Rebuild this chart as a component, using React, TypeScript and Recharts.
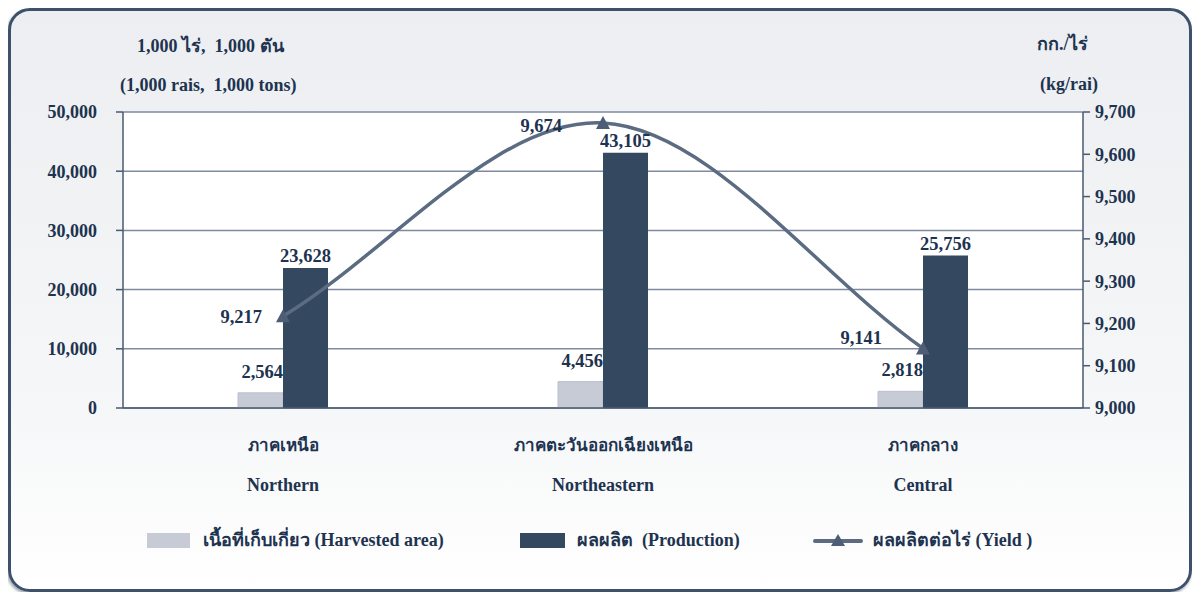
import React from "react";
import {
  ComposedChart,
  Bar,
  Line,
  XAxis,
  YAxis,
  CartesianGrid,
  LabelList,
} from "recharts";

const regionsTh = ["ภาคเหนือ", "ภาคตะวันออกเฉียงเหนือ", "ภาคกลาง"];
const regionsEn = ["Northern", "Northeastern", "Central"];
const harvestedArea = [2564, 4456, 2818];
const production = [23628, 43105, 25756];
const yieldPerRai = [9217, 9674, 9141];
const leftTicks = [0, 10000, 20000, 30000, 40000, 50000];
const rightTicks = [9000, 9100, 9200, 9300, 9400, 9500, 9600, 9700];
const boundaryTicks = [0, 1, 2, 3];

const data = regionsEn.map((name, i) => ({
  name,
  th: regionsTh[i],
  idx: i + 0.5,
  harvested: harvestedArea[i],
  production: production[i],
  yield: yieldPerRai[i],
}));

const FONT = '"Liberation Serif", "Times New Roman", serif';
const TEXT = "#1d3350";
const LIGHT = "#c6cbd6";
const DARK = "#34495f";
const LINE = "#5b6b82";

const fmt = (v: number) => v.toLocaleString("en-US");

// smoothed line like the spreadsheet one: catmull-rom inside, secant tangents at the ends
const smoothCurve = (context: any) => {
  let pts: number[][] = [];
  return {
    areaStart() {},
    areaEnd() {},
    lineStart() {
      pts = [];
    },
    point(x: number, y: number) {
      pts.push([+x, +y]);
    },
    lineEnd() {
      const n = pts.length;
      if (!n) return;
      context.moveTo(pts[0][0], pts[0][1]);
      if (n === 1) return;
      const tan = pts.map((p, i) => {
        if (i === 0) return [pts[1][0] - p[0], pts[1][1] - p[1]];
        if (i === n - 1) return [p[0] - pts[i - 1][0], p[1] - pts[i - 1][1]];
        return [
          (pts[i + 1][0] - pts[i - 1][0]) / 2,
          (pts[i + 1][1] - pts[i - 1][1]) / 2,
        ];
      });
      for (let i = 0; i < n - 1; i++) {
        const a = pts[i];
        const b = pts[i + 1];
        context.bezierCurveTo(
          a[0] + tan[i][0] / 3,
          a[1] + tan[i][1] / 3,
          b[0] - tan[i + 1][0] / 3,
          b[1] - tan[i + 1][1] / 3,
          b[0],
          b[1]
        );
      }
    },
  };
};

const Triangle = ({ cx, cy }: any) => {
  if (cx == null || cy == null) return null;
  return (
    <polygon
      points={`${cx},${cy - 7} ${cx - 7},${cy + 6} ${cx + 7},${cy + 6}`}
      fill="#4d5d76"
    />
  );
};

const CategoryTick = ({ x, y, payload, index }: any) => (
  <g>
    <text
      x={x}
      y={y + 43}
      textAnchor="middle"
      fill={TEXT}
      fontFamily={FONT}
      fontWeight="bold"
      fontSize={17}
    >
      {regionsTh[index] ?? ""}
    </text>
    <text
      x={x}
      y={y + 83}
      textAnchor="middle"
      fill={TEXT}
      fontFamily={FONT}
      fontWeight="bold"
      fontSize={18}
    >
      {payload.value}
    </text>
  </g>
);

const labelStyle = {
  fill: TEXT,
  fontFamily: FONT,
  fontWeight: "bold" as const,
  fontSize: 18.5,
};

const HarvestLabel = ({ x, y, width, value }: any) => (
  <text x={x + width} y={y - 15} textAnchor="end" style={labelStyle}>
    {fmt(value)}
  </text>
);

const ProductionLabel = ({ x, y, width, value }: any) => (
  <text x={x + width / 2} y={y - 6} textAnchor="middle" style={labelStyle}>
    {fmt(value)}
  </text>
);

const yieldOffsets = [
  { dx: -21, dy: 7 },
  { dx: -41, dy: 9 },
  { dx: -41, dy: -4 },
];

const YieldLabel = ({ x, y, value, index }: any) => {
  const o = yieldOffsets[index] ?? { dx: -20, dy: 0 };
  return (
    <text x={x + o.dx} y={y + o.dy} textAnchor="end" style={labelStyle}>
      {fmt(value)}
    </text>
  );
};

const tickStyle = {
  fontSize: 18,
  fontWeight: "bold" as const,
  fill: TEXT,
  fontFamily: FONT,
};

const textBase: React.CSSProperties = {
  position: "absolute",
  fontFamily: FONT,
  fontWeight: "bold",
  color: TEXT,
  whiteSpace: "nowrap",
  lineHeight: "20px",
};

const LegendRow = () => (
  <div
    style={{
      ...textBase,
      top: 522,
      left: 0,
      width: 1184,
      height: 20,
      fontSize: 18,
    }}
  >
    <div
      style={{
        position: "absolute",
        left: 139,
        top: 3,
        width: 43,
        height: 15,
        background: LIGHT,
      }}
    />
    <span style={{ position: "absolute", left: 195, top: 0 }}>
      เนื้อที่เก็บเกี่ยว (Harvested area)
    </span>
    <div
      style={{
        position: "absolute",
        left: 512,
        top: 3,
        width: 45,
        height: 15,
        background: DARK,
      }}
    />
    <span style={{ position: "absolute", left: 569, top: 0 }}>
      ผลผลิต&nbsp; (Production)
    </span>
    <svg
      style={{ position: "absolute", left: 805, top: 0 }}
      width={50}
      height={20}
    >
      <line x1={2} y1={11} x2={48} y2={11} stroke={LINE} strokeWidth={4} strokeLinecap="round" />
      <polygon points="25,4 18,16 32,16" fill="#4d5d76" />
    </svg>
    <span style={{ position: "absolute", left: 865, top: 0 }}>
      ผลผลิตต่อไร่ (Yield )
    </span>
  </div>
);

export default function App() {
  return (
    <div style={{ position: "relative", width: 1184, height: 584 }}>
      <div
        style={{
          position: "absolute",
          inset: 0,
          boxSizing: "border-box",
          border: "3px solid #3e516b",
          borderRadius: 22,
          background: "linear-gradient(#eceef1 0%, #f6f7f8 70%, #ffffff 100%)",
          boxShadow: "-1px 2px 3px rgba(40,55,75,0.45)",
        }}
      />
      <div style={{ ...textBase, left: 129, top: 28, fontSize: 18 }}>
        1,000 ไร่,&nbsp; 1,000 ตัน
      </div>
      <div style={{ ...textBase, left: 112, top: 67, fontSize: 18 }}>
        (1,000 rais,&nbsp; 1,000 tons)
      </div>
      <div style={{ ...textBase, left: 1029, top: 26, fontSize: 18 }}>
        กก./ไร่
      </div>
      <div style={{ ...textBase, left: 1032, top: 66, fontSize: 18 }}>
        (kg/rai)
      </div>
      <div style={{ position: "absolute", left: 0, top: 0 }}>
        <ComposedChart
          width={1184}
          height={584}
          data={data}
          margin={{ top: 104, right: 0, bottom: 0, left: 0 }}
          barGap={0}
          barSize={45}
        >
          <CartesianGrid
            yAxisId="left"
            vertical={false}
            stroke="#7d8aa0"
            strokeWidth={1.5}
            fill="#ffffff"
          />
          <XAxis
            xAxisId="bounds"
            type="number"
            dataKey="idx"
            domain={[0, 3]}
            ticks={boundaryTicks}
            height={0}
            tickSize={9}
            tickFormatter={() => ""}
            axisLine={false}
            tickLine={{ stroke: "#4a5a70", strokeWidth: 1.5 }}
          />
          <XAxis
            dataKey="name"
            height={184}
            tickSize={0}
            tickMargin={0}
            tickLine={false}
            axisLine={{ stroke: "#4a5a70", strokeWidth: 1.5 }}
            tick={<CategoryTick />}
            interval={0}
          />
          <YAxis
            yAxisId="left"
            width={115}
            domain={[0, 50000]}
            ticks={leftTicks}
            tickFormatter={fmt}
            tick={tickStyle}
            tickSize={7}
            tickMargin={19}
            axisLine={{ stroke: "#4a5a70", strokeWidth: 1.5 }}
            tickLine={{ stroke: "#4a5a70", strokeWidth: 1.5 }}
          />
          <YAxis
            yAxisId="right"
            orientation="right"
            width={109}
            domain={[9000, 9700]}
            ticks={rightTicks}
            tickFormatter={fmt}
            tick={{ ...tickStyle, textAnchor: "start" }}
            tickSize={7}
            tickMargin={5}
            axisLine={{ stroke: "#4a5a70", strokeWidth: 1.5 }}
            tickLine={{ stroke: "#4a5a70", strokeWidth: 1.5 }}
          />
          <Bar
            yAxisId="left"
            dataKey="harvested"
            fill={LIGHT}
            stroke="#b9c0ce"
            isAnimationActive={false}
          >
            <LabelList dataKey="harvested" content={<HarvestLabel />} />
          </Bar>
          <Bar
            yAxisId="left"
            dataKey="production"
            fill={DARK}
            isAnimationActive={false}
          >
            <LabelList dataKey="production" content={<ProductionLabel />} />
          </Bar>
          <Line
            yAxisId="right"
            dataKey="yield"
            type={smoothCurve as any}
            stroke={LINE}
            strokeWidth={3.5}
            dot={<Triangle />}
            activeDot={false}
            isAnimationActive={false}
          >
            <LabelList dataKey="yield" content={<YieldLabel />} />
          </Line>
        </ComposedChart>
      </div>
      <LegendRow />
    </div>
  );
}
